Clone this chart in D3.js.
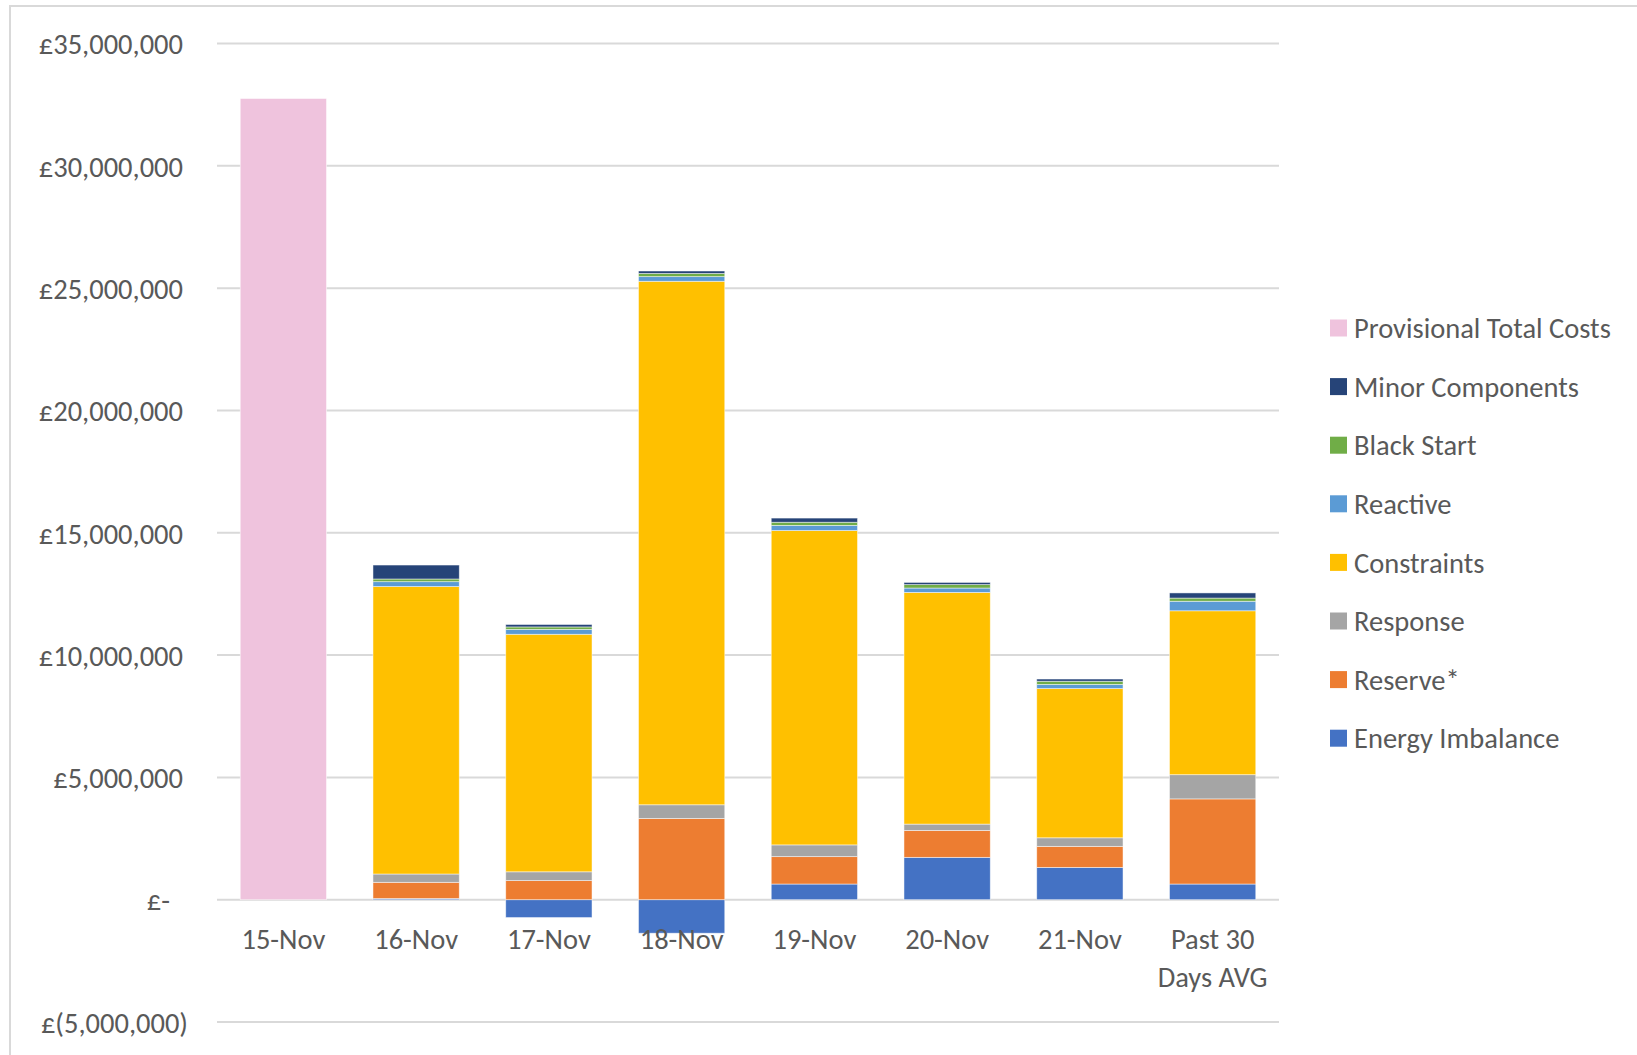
<!DOCTYPE html>
<html>
<head>
<meta charset="utf-8">
<script src="https://cdn.jsdelivr.net/npm/d3@7"></script>
<style>
  html, body { margin: 0; padding: 0; background: #fff; }
  svg { display: block; }
  text { font-family: Carlito, Calibri, Lato, sans-serif; fill: #595959; }
</style>
</head>
<body>
<svg id="chart" width="1637" height="1055"></svg>
<script>
// ---- Data (values in £) ----
const categories = ["15-Nov", "16-Nov", "17-Nov", "18-Nov", "19-Nov", "20-Nov", "21-Nov", "Past 30 Days AVG"];
const energyImbalance   = [0, 0.05e6, -0.73e6, -1.37e6, 0.64e6, 1.73e6, 1.32e6, 0.64e6];
const reserve           = [0, 0.66e6, 0.78e6, 3.32e6, 1.12e6, 1.10e6, 0.86e6, 3.48e6];
const response          = [0, 0.34e6, 0.36e6, 0.56e6, 0.48e6, 0.26e6, 0.35e6, 0.99e6];
const constraints       = [0, 11.75e6, 9.71e6, 21.40e6, 12.85e6, 9.47e6, 6.10e6, 6.70e6];
const reactive          = [0, 0.20e6, 0.20e6, 0.19e6, 0.21e6, 0.18e6, 0.17e6, 0.39e6];
const blackStart        = [0, 0.11e6, 0.10e6, 0.13e6, 0.13e6, 0.14e6, 0.13e6, 0.13e6];
const minorComponents   = [0, 0.57e6, 0.10e6, 0.10e6, 0.17e6, 0.09e6, 0.09e6, 0.21e6];
const provisionalTotal  = [32.75e6, 0, 0, 0, 0, 0, 0, 0];
const seriesNames = ["Energy Imbalance", "Reserve*", "Response", "Constraints", "Reactive", "Black Start", "Minor Components", "Provisional Total Costs"];
const seriesValues = [energyImbalance, reserve, response, constraints, reactive, blackStart, minorComponents, provisionalTotal];
const seriesColors = ["#4472C4", "#ED7D31", "#A5A5A5", "#FFC000", "#5B9BD5", "#70AD47", "#264478", "#EFC3DD"];
const yTicks = [-5e6, 0, 5e6, 10e6, 15e6, 20e6, 25e6, 30e6, 35e6];

// ---- Build table ----
const table = categories.map((c, i) => {
  const row = { category: c };
  seriesNames.forEach((s, j) => row[s] = seriesValues[j][i]);
  return row;
});

const svg = d3.select("#chart");
const FS = "28.5px";

// chart border (only top & left visible in crop)
svg.append("path")
  .attr("d", "M10,1055 L10,6 L1637,6")
  .attr("fill", "none").attr("stroke", "#d9d9d9").attr("stroke-width", 2);

const plotLeft = 217, plotRight = 1279;
const x = d3.scaleBand().domain(categories).range([plotLeft, plotRight])
  .paddingInner(0.35).paddingOuter(0.175);
const y = d3.scaleLinear().domain([-5e6, 35e6]).range([1022, 43.5]);

// gridlines
svg.append("g").selectAll("line").data(yTicks).join("line")
  .attr("x1", plotLeft).attr("x2", plotRight)
  .attr("y1", d => y(d)).attr("y2", d => y(d))
  .attr("stroke", "#d9d9d9").attr("stroke-width", 2);

// y axis labels
const fmt = d => {
  if (d === 0) return "£-";
  const s = d3.format(",")(Math.abs(d));
  return d < 0 ? "£(" + s + ")" : "£" + s;
};
const yAxis = d3.axisLeft(y).tickValues(yTicks).tickFormat(fmt).tickSize(0).tickPadding(0);
const gy = svg.append("g").attr("transform", "translate(183,0)").call(yAxis);
gy.select(".domain").remove();
gy.selectAll("text")
  .style("font-size", FS).attr("fill", "#595959")
  .attr("dy", "0.36em")
  .attr("dx", d => d < 0 ? 5 : (d === 0 ? -13 : 0));

// stacked bars
const stack = d3.stack().keys(seriesNames).offset(d3.stackOffsetDiverging);
const stacked = stack(table);

svg.append("g").selectAll("g").data(stacked).join("g")
  .attr("fill", (d, i) => seriesColors[i])
  .selectAll("rect").data(d => d).join("rect")
  .attr("x", d => x(d.data.category))
  .attr("width", x.bandwidth())
  .attr("y", d => y(Math.max(d[0], d[1])))
  .attr("height", d => Math.abs(y(d[0]) - y(d[1])))
  .attr("stroke", "#ffffff").attr("stroke-width", 0.8).attr("stroke-opacity", 0.6);

// x axis labels
const xAxis = d3.axisBottom(x).tickSize(0).tickPadding(0);
const gx = svg.append("g").attr("transform", "translate(0,949)").call(xAxis);
gx.select(".domain").remove();
gx.selectAll("text").attr("dy", 0).style("font-size", FS).attr("fill", "#595959")
  .each(function(d) {
    if (d === "Past 30 Days AVG") {
      const t = d3.select(this).text(null);
      t.append("tspan").attr("x", 0).attr("dy", 0).text("Past 30");
      t.append("tspan").attr("x", 0).attr("dy", 38).text("Days AVG");
    }
  });

// legend
const legendOrder = seriesNames.map((n, i) => ({ name: n, color: seriesColors[i] })).reverse();
const lg = svg.append("g").selectAll("g").data(legendOrder).join("g")
  .attr("transform", (d, i) => `translate(1330,${328 + i * 58.6})`);
lg.append("rect").attr("x", 0).attr("y", -8.5).attr("width", 17).attr("height", 17)
  .attr("fill", d => d.color);
lg.append("text").attr("x", 24).attr("dy", "0.36em")
  .style("font-size", FS).text(d => d.name);
</script>
</body>
</html>
